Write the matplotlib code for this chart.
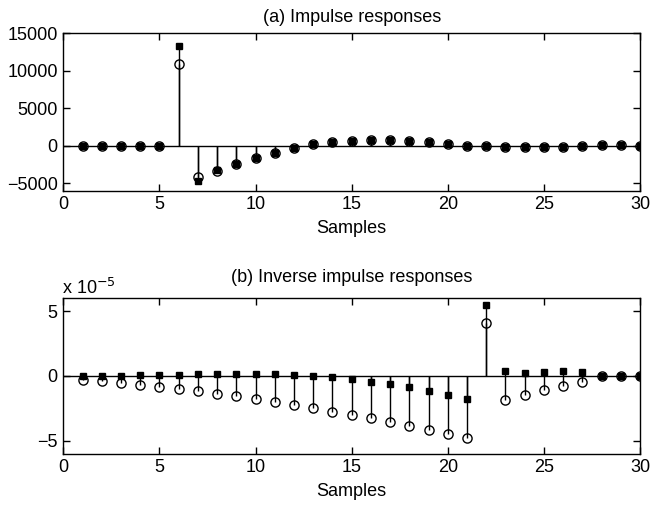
import numpy as np
import matplotlib
matplotlib.use('Agg')
import matplotlib.pyplot as plt

plt.rcParams['font.family'] = ['Liberation Sans', 'DejaVu Sans']
plt.rcParams['font.size'] = 13

samples = np.arange(1, 31)

# (a) impulse responses: filled squares and open circles
imp_sq = [0, 0, 0, 0, 0, 13300, -4670, -3200, -2440, -1600, -930, -310, 190, 450, 670,
          760, 740, 670, 450, 230, -30, -90, -130, -170, -170, -130, -100, 20, 20, 0]
imp_circ = [0, 0, 0, 0, 0, 10900, -4210, -3350, -2440, -1600, -930, -310, 190, 450, 670,
            760, 740, 670, 450, 230, -30, -90, -130, -170, -170, -130, -100, 20, 20, 0]

# (b) inverse impulse responses, in units of 1e-5
inv_sq = [0.0, 0.03, 0.03, 0.05, 0.08, 0.10, 0.13, 0.15, 0.18, 0.15, 0.13, 0.08, 0.03, -0.10, -0.26,
          -0.46, -0.66, -0.89, -1.20, -1.48, -1.76, 5.46, 0.36, 0.20, 0.33, 0.38, 0.33, 0.0, 0.0, 0.0]
inv_circ = [-0.33, -0.41, -0.54, -0.69, -0.84, -1.00, -1.15, -1.38, -1.56, -1.79, -2.02, -2.25, -2.50, -2.76, -2.99,
            -3.27, -3.57, -3.85, -4.19, -4.49, -4.82, 4.08, -1.84, -1.48, -1.12, -0.79, -0.48, 0.0, 0.0, 0.0]


def stem_pair(ax, x, ys, yc):
    ax.axhline(0, color='black', lw=1.0, zorder=1)
    for y in (ys, yc):
        ax.vlines(x, 0, y, color='black', lw=1.0, zorder=1)
    ax.plot(x, ys, 's', color='black', ms=5.0, zorder=3)
    ax.plot(x, yc, 'o', mfc='none', mec='black', mew=1.0, ms=6.6, zorder=4)


def style(ax):
    ax.set_xlim(0, 30)
    ax.set_xticks([0, 5, 10, 15, 20, 25, 30])
    ax.tick_params(direction='in', top=True, right=True, length=5, width=1, pad=4)
    for s in ax.spines.values():
        s.set_linewidth(1.0)
    ax.set_xlabel('Samples', labelpad=5)


fig = plt.figure(figsize=(6.5, 5.08), dpi=100)
ax1 = fig.add_axes([63.3 / 650, 1 - 190.5 / 508, (640 - 63.3) / 650, (190.5 - 33.3) / 508])
ax2 = fig.add_axes([63.3 / 650, 1 - 453.5 / 508, (640 - 63.3) / 650, (453.5 - 298.3) / 508])

stem_pair(ax1, samples, imp_sq, imp_circ)
style(ax1)
ax1.set_ylim(-6000, 15000)
ax1.set_yticks([-5000, 0, 5000, 10000, 15000])
ax1.set_yticklabels(['\u22125000', '0', '5000', '10000', '15000'])
ax1.set_title('(a) Impulse responses', fontsize=13, pad=8)

stem_pair(ax2, samples, inv_sq, inv_circ)
style(ax2)
ax2.set_ylim(-6, 6)
ax2.set_yticks([-5, 0, 5])
ax2.set_yticklabels(['\u22125', '0', '5'])
ax2.set_title('(b) Inverse impulse responses', fontsize=13, pad=12)
ax2.text(-0.003, 1.03, 'x 10$^{\u22125}$', transform=ax2.transAxes, ha='left', va='baseline')

fig.savefig('out.png', dpi=100)
